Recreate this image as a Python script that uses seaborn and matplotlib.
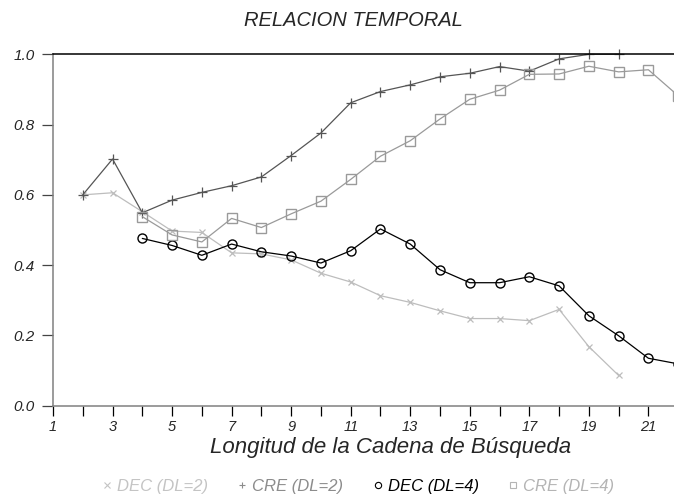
import matplotlib
matplotlib.use("Agg")
import matplotlib.pyplot as plt
from matplotlib.lines import Line2D
import seaborn as sns

# values
x_dec2 = [2, 3, 4, 5, 6, 7, 8, 9, 10, 11, 12, 13, 14, 15, 16, 17, 18, 19, 20]
dec2 = [0.60, 0.606, 0.552, 0.497, 0.493, 0.435, 0.432, 0.415, 0.377, 0.352,
        0.313, 0.294, 0.270, 0.248, 0.248, 0.242, 0.274, 0.168, 0.086]

x_cre2 = [2, 3, 4, 5, 6, 7, 8, 9, 10, 11, 12, 13, 14, 15, 16, 17, 18, 19, 20]
cre2 = [0.60, 0.702, 0.549, 0.585, 0.607, 0.626, 0.651, 0.712, 0.776, 0.862,
        0.894, 0.913, 0.936, 0.946, 0.965, 0.952, 0.987, 1.0, 1.0]

x_dec4 = [4, 5, 6, 7, 8, 9, 10, 11, 12, 13, 14, 15, 16, 17, 18, 19, 20, 21, 22]
dec4 = [0.476, 0.456, 0.428, 0.460, 0.438, 0.426, 0.406, 0.441, 0.503, 0.460,
        0.387, 0.350, 0.350, 0.367, 0.341, 0.256, 0.199, 0.135, 0.119]

x_cre4 = [4, 5, 6, 7, 8, 9, 10, 11, 12, 13, 14, 15, 16, 17, 18, 19, 20, 21, 22]
cre4 = [0.538, 0.486, 0.466, 0.533, 0.507, 0.546, 0.582, 0.644, 0.710, 0.754,
        0.816, 0.872, 0.898, 0.943, 0.944, 0.966, 0.950, 0.956, 0.882]

labels = ["DEC (DL=2)", "CRE (DL=2)", "DEC (DL=4)", "CRE (DL=4)"]
x_ticks = list(range(1, 22))
y_ticks = [0.0, 0.2, 0.4, 0.6, 0.8, 1.0]

sns.set_style("white")
plt.rcParams["font.family"] = ["Liberation Sans", "DejaVu Sans"]

fig = plt.figure(figsize=(6.74, 4.95), dpi=100)
ax = fig.add_axes([53 / 674, 1 - 405.7 / 495, 621 / 674, 351.4 / 495])

styles = [
    dict(marker="x", color="#bdbdbd", markersize=4.5, mew=0.9),
    dict(marker="+", color="#555555", markersize=6.5, mew=0.9),
    dict(marker="o", color="black", markersize=6.5, mew=1.0, mfc="none"),
    dict(marker="s", color="#9a9a9a", markersize=6.5, mew=1.0, mfc="none"),
]
series = [(x_dec2, dec2), (x_cre2, cre2), (x_dec4, dec4), (x_cre4, cre4)]
for (xs, ys), st in zip(series, styles):
    sns.lineplot(x=xs, y=ys, ax=ax, lw=0.9, clip_on=False, mec=st["color"], **st)

ax.set_xlim(1, 21.86)
ax.set_ylim(0, 1.0)
ax.set_xticks(x_ticks)
ax.set_xticklabels([str(v) if v % 2 == 1 else "" for v in x_ticks],
                   fontsize=10.5, style="italic")
ax.set_yticks(y_ticks)
ax.set_yticklabels([f"{v:.1f}" for v in y_ticks], fontsize=11, style="italic")
ax.tick_params(axis="x", direction="out", length=7.5, width=0.9, color="black",
               pad=2.5, bottom=True)
ax.tick_params(axis="y", direction="out", length=8, width=0.9, color="#444444",
               pad=5, left=True)

for side in ["left", "bottom"]:
    ax.spines[side].set_color("#808080")
    ax.spines[side].set_linewidth(1.1)
ax.spines["top"].set_color("black")
ax.spines["top"].set_linewidth(1.1)
ax.spines["right"].set_visible(False)

fig.text(353 / 674, 1 - 20 / 495, "RELACION TEMPORAL", ha="center",
         va="center", fontsize=14.5, style="italic")
fig.text(391 / 674, 1 - 447 / 495, "Longitud de la Cadena de Búsqueda",
         ha="center", va="center", fontsize=16, style="italic")

leg_text = ["#c4c4c4", "#8c8c8c", "black", "#b4b4b4"]
handles = [Line2D([], [], linestyle="none", marker=st["marker"], color=c,
                  mec=c, mfc="none", markersize=4.5, mew=0.8)
           for st, c in zip(styles, leg_text)]
leg = fig.legend(handles, labels, loc="center", bbox_to_anchor=(358 / 674, 1 - 486 / 495),
                 ncol=4, frameon=False, handlelength=0.6, handletextpad=0.3,
                 columnspacing=1.75, prop={"size": 12, "style": "italic"})
for t, c in zip(leg.get_texts(), leg_text):
    t.set_color(c)

fig.savefig("out.png", dpi=100)
